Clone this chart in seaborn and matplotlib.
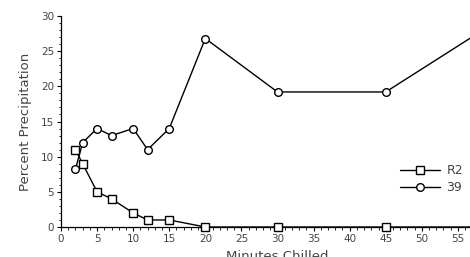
import matplotlib
matplotlib.use("Agg")
import matplotlib.pyplot as plt
import seaborn as sns
import pandas as pd
from matplotlib.ticker import MultipleLocator
from matplotlib.lines import Line2D

minutes = [2, 3, 5, 7, 10, 12, 15, 20, 30, 45, 60]
r2_values = [11, 9, 5, 4, 2, 1, 1, 0, 0, 0, 0]
s39_values = [8.2, 12, 14, 13, 14, 11, 14, 26.8, 19.2, 19.2, 29]
series_names = ["R2", "39"]
x_ticks = list(range(0, 60, 5))
y_ticks = list(range(0, 31, 5))

df = pd.concat([
    pd.DataFrame({"Minutes": minutes, "Percent": r2_values, "Series": series_names[0]}),
    pd.DataFrame({"Minutes": minutes, "Percent": s39_values, "Series": series_names[1]}),
])

sns.set_style("ticks")
plt.rcParams["font.family"] = ["DejaVu Sans"]
txt = "#444444"

fig = plt.figure(figsize=(4.70, 2.57), dpi=100)
ax = fig.add_axes([61 / 470, 30 / 257, 433 / 470, 211 / 257])

markers = {"R2": "s", "39": "o"}
for name in series_names:
    sub = df[df["Series"] == name]
    sns.lineplot(data=sub, x="Minutes", y="Percent", ax=ax, color="black",
                 marker=markers[name], markersize=6 if name == "R2" else 5.5,
                 markerfacecolor="white", markeredgecolor="black",
                 markeredgewidth=1.0, linewidth=1.0, legend=False,
                 clip_on=False, zorder=3)

ax.set_xlim(0, 60)
ax.set_ylim(0, 30)
ax.set_xticks(x_ticks)
ax.set_yticks(y_ticks)
ax.xaxis.set_minor_locator(MultipleLocator(1))
ax.yaxis.set_minor_locator(MultipleLocator(1))
ax.tick_params(axis="both", which="major", labelsize=7.5, length=3, width=0.8,
               colors="black", labelcolor=txt, pad=2)
ax.tick_params(axis="both", which="minor", length=1.8, width=0.6, colors="black")
sns.despine(ax=ax)
for s in ["left", "bottom"]:
    ax.spines[s].set_linewidth(0.9)
    ax.spines[s].set_color("black")

ax.set_ylabel("Percent Precipitation", fontsize=9.5, color=txt, labelpad=6)
ax.set_xlabel("Minutes Chilled", fontsize=9.5, color=txt, labelpad=4)

handles = [Line2D([], [], color="black", lw=1.0, marker=markers[n],
                  markersize=6 if n == "R2" else 5.5, markerfacecolor="white",
                  markeredgecolor="black", markeredgewidth=1.0) for n in series_names]
leg = fig.legend(handles, series_names, loc="center left",
                 bbox_to_anchor=(400 / 470, 1 - 179 / 257), frameon=False,
                 fontsize=9, handlelength=3.2, handletextpad=0.5,
                 labelspacing=0.3, borderaxespad=0, borderpad=0)
for t in leg.get_texts():
    t.set_color(txt)

fig.savefig("out.png", dpi=100)
